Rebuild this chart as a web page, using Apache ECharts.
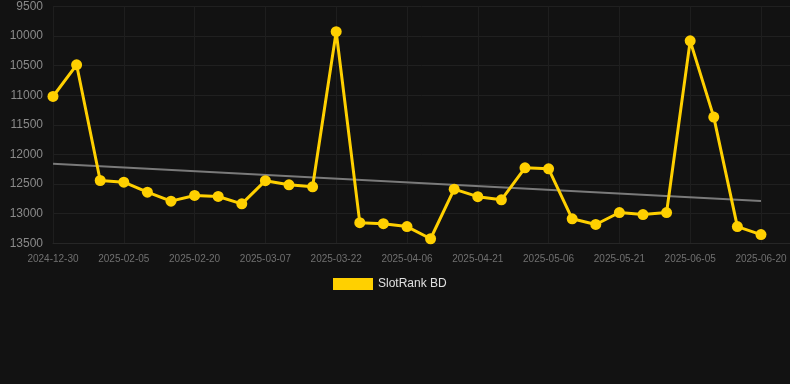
<!DOCTYPE html>
<html>
<head>
<meta charset="utf-8">
<script src="https://cdn.jsdelivr.net/npm/echarts@6/dist/echarts.min.js"></script>
<style>
html,body{margin:0;padding:0;background:#121212;}
#chart{width:790px;height:384px;}
</style>
</head>
<body>
<div id="chart"></div>
<script>
var dates = ["2024-12-30","2025-01-26","2025-01-31","2025-02-05","2025-02-10","2025-02-15","2025-02-20","2025-02-25","2025-03-02","2025-03-07","2025-03-12","2025-03-17","2025-03-22","2025-03-27","2025-04-01","2025-04-06","2025-04-11","2025-04-16","2025-04-21","2025-04-26","2025-05-01","2025-05-06","2025-05-11","2025-05-16","2025-05-21","2025-05-26","2025-05-31","2025-06-05","2025-06-10","2025-06-15","2025-06-20"];
var rankValues = [11020,10485,12439,12467,12636,12788,12692,12709,12833,12442,12512,12546,9926,13151,13168,13218,13423,12586,12712,12765,12225,12242,13086,13182,12980,13014,12980,10080,11368,13218,13353];
var trendStart = 12155;
var trendEnd = 12785;
var yTicks = [9500,10000,10500,11000,11500,12000,12500,13000,13500];

var seriesData = rankValues.map(function(v,i){return [i,v];});
var trendData = [[0,trendStart],[dates.length-1,trendEnd]];

var chart = echarts.init(document.getElementById('chart'), null, {renderer:'canvas'});
chart.setOption({
  backgroundColor:'#121212',
  animation:false,
  grid:{left:53,right:0,top:6.5,bottom:140.7},
  legend:{
    data:[{name:'SlotRank BD',icon:'rect'}],
    left:328,top:273,itemWidth:40,itemHeight:12,itemGap:10,
    textStyle:{color:'#e0e0e0',fontSize:12,fontFamily:'Liberation Sans, Arial, sans-serif'}
  },
  xAxis:{
    type:'value',min:0,max:31.23,interval:3,
    axisLine:{show:true,lineStyle:{color:'#262626'}},
    axisTick:{show:false},
    splitLine:{show:true,lineStyle:{color:'#1e1e1e',width:1}},
    axisLabel:{
      showMaxLabel:false,
      color:'#707070',fontSize:10,margin:11,
      fontFamily:'Liberation Sans, Arial, sans-serif',
      formatter:function(v){var i=Math.round(v);return (Math.abs(v-i)<1e-6&&dates[i])?dates[i]:'';}
    }
  },
  yAxis:{
    type:'value',inverse:true,min:yTicks[0],max:yTicks[yTicks.length-1],interval:500,
    axisLine:{show:false},axisTick:{show:false},
    splitLine:{show:true,lineStyle:{color:'#202020',width:1}},
    axisLabel:{color:'#8a8a8a',fontSize:12,margin:10,fontFamily:'Liberation Sans, Arial, sans-serif',
      formatter:function(v){return String(v);}}
  },
  series:[
    {
      name:'trend',type:'line',data:trendData,symbol:'none',silent:true,
      lineStyle:{color:'#7a7a7a',width:2},z:1
    },
    {
      name:'SlotRank BD',type:'line',data:seriesData,
      symbol:'circle',symbolSize:11,
      itemStyle:{color:'#ffd000'},
      lineStyle:{color:'#ffd000',width:3},z:2
    }
  ]
});
</script>
</body>
</html>
